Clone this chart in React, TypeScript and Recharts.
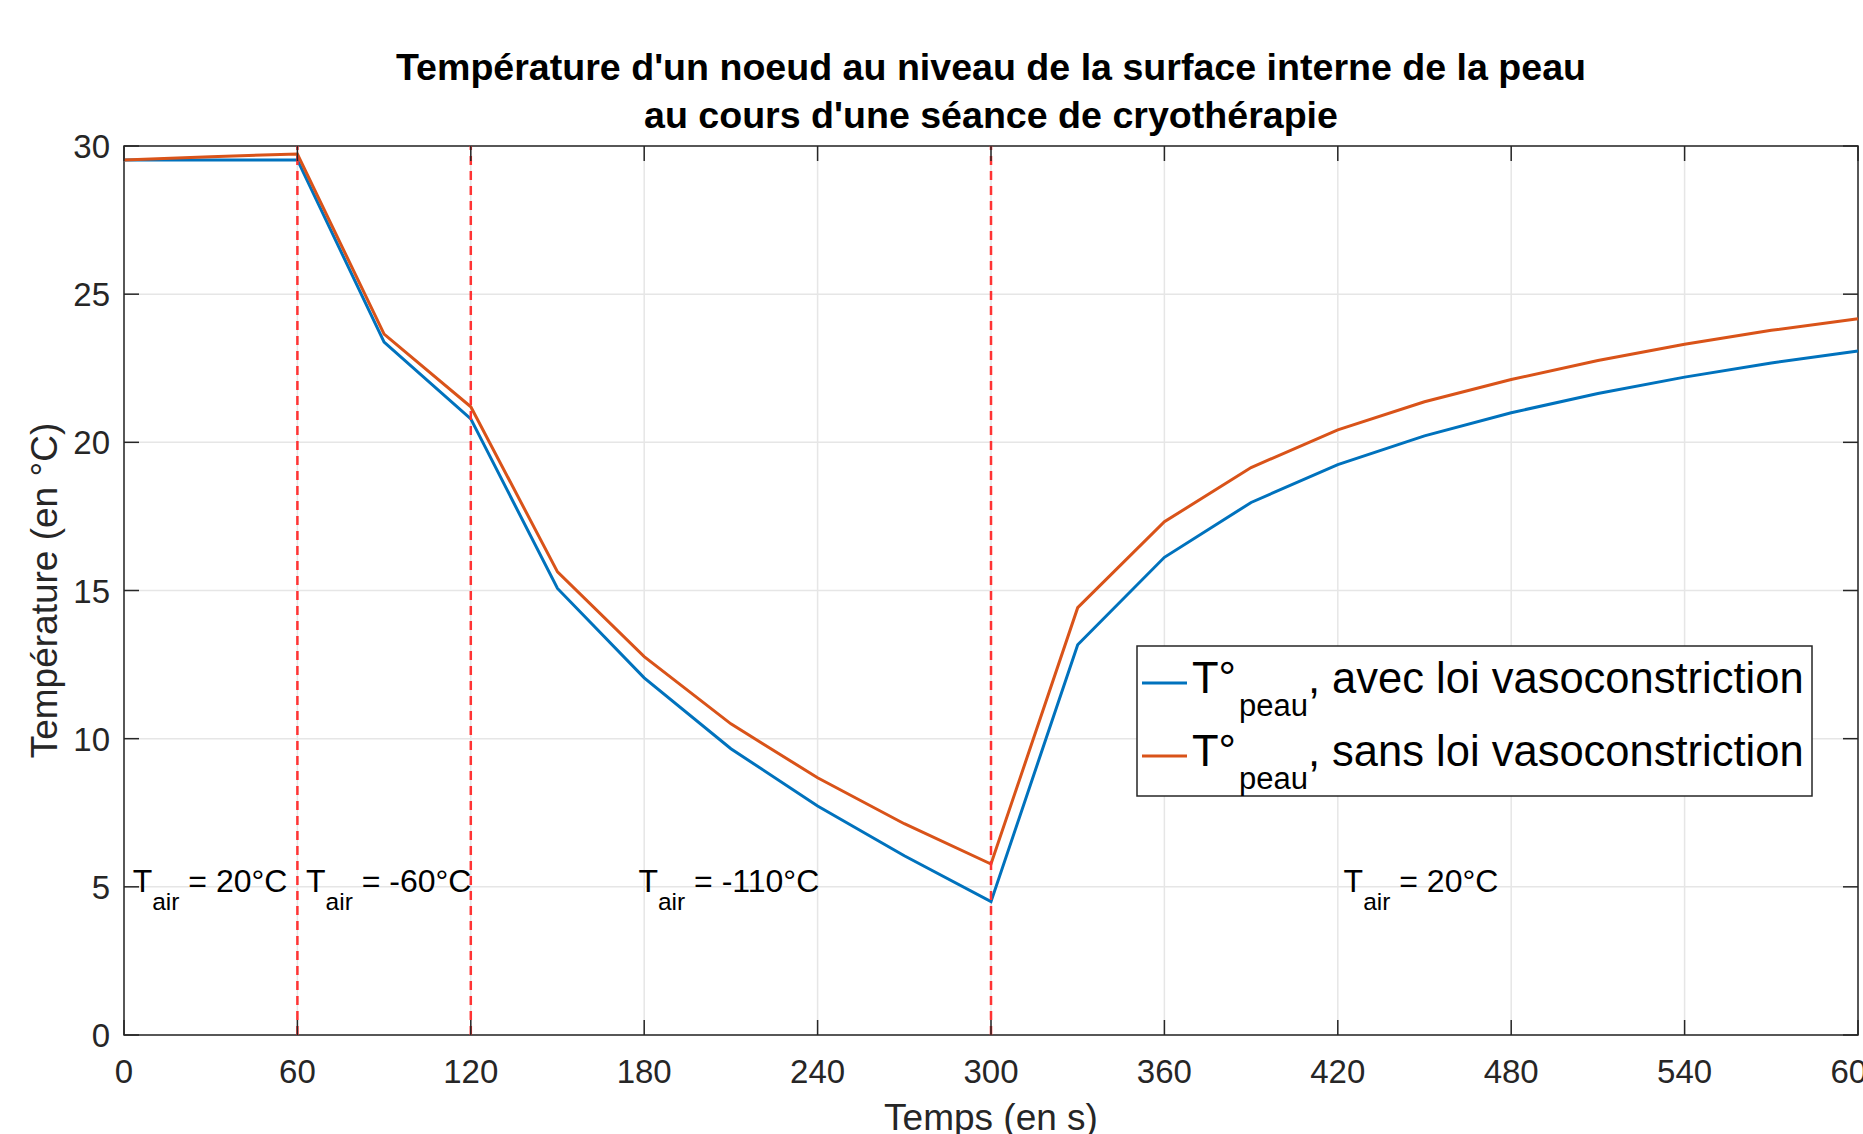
import React from 'react';
import {
  LineChart,
  Line,
  XAxis,
  YAxis,
  CartesianGrid,
  ReferenceLine,
  ReferenceArea,
  ReferenceDot,
} from 'recharts';

// temps (s)
const time = [0, 30, 60, 90, 120, 150, 180, 210, 240, 270, 300, 330, 360, 390, 420, 450, 480, 510, 540, 570, 600];

// T° peau avec loi vasoconstriction
const withVaso = [
  29.53, 29.53, 29.53, 23.38, 20.79, 15.07, 12.05, 9.66, 7.73, 6.05, 4.5,
  13.17, 16.12, 17.97, 19.25, 20.22, 21.0, 21.65, 22.2, 22.68, 23.08,
];

// T° peau sans loi vasoconstriction
const withoutVaso = [
  29.53, 29.64, 29.73, 23.65, 21.2, 15.63, 12.77, 10.5, 8.68, 7.13, 5.77,
  14.42, 17.32, 19.15, 20.42, 21.37, 22.12, 22.76, 23.31, 23.78, 24.17,
];

const xTicks = [0, 60, 120, 180, 240, 300, 360, 420, 480, 540, 600];
const yTicks = [0, 5, 10, 15, 20, 25, 30];

// changements de phase (s)
const phaseChanges = [60, 120, 300];

// étiquettes des phases
const phaseTimes = [3, 63, 178, 422];
const phaseAir = ['20°C', '-60°C', '-110°C', '20°C'];
const phaseLabelY = 5;

const seriesNames = ['avec loi vasoconstriction', 'sans loi vasoconstriction'];
const seriesKeys = ['vaso', 'noVaso'];
const seriesColors = ['#0072BD', '#D95319'];

const data = time.map((t, i) => ({ t, vaso: withVaso[i], noVaso: withoutVaso[i] }));

const W = 1863;
const H = 1134;
const PLOT_LEFT = 124;
const PLOT_RIGHT = 1858;
const PLOT_TOP = 146;
const PLOT_BOTTOM = 1035;
const FONT = '"Liberation Sans", Arial, Helvetica, sans-serif';
const AXIS = '#262626';
const TICK_LEN = 15;

function XTick(props: any) {
  const { x, payload } = props;
  return (
    <g>
      <line x1={x} x2={x} y1={PLOT_BOTTOM} y2={PLOT_BOTTOM - TICK_LEN} stroke={AXIS} strokeWidth={1.5} />
      <line x1={x} x2={x} y1={PLOT_TOP} y2={PLOT_TOP + TICK_LEN} stroke={AXIS} strokeWidth={1.5} />
      <text x={x} y={1083} textAnchor="middle" fontSize={33} fontFamily={FONT} fill={AXIS}>
        {payload.value}
      </text>
    </g>
  );
}

function YTick(props: any) {
  const { y, payload } = props;
  return (
    <g>
      <line x1={PLOT_LEFT} x2={PLOT_LEFT + TICK_LEN} y1={y} y2={y} stroke={AXIS} strokeWidth={1.5} />
      <line x1={PLOT_RIGHT - TICK_LEN} x2={PLOT_RIGHT} y1={y} y2={y} stroke={AXIS} strokeWidth={1.5} />
      <text x={110} y={y + 12} textAnchor="end" fontSize={33} fontFamily={FONT} fill={AXIS}>
        {payload.value}
      </text>
    </g>
  );
}

function phaseLabel(air: string) {
  return (p: any) => (
    <text
      x={p.cx}
      y={p.cy + 5}
      fontSize={32}
      fontFamily={FONT}
      fill="#000"
      style={{ whiteSpace: 'pre' }}
    >
      T
      <tspan fontSize={24.5} dy={18}>air</tspan>
      <tspan dy={-18}>{` = ${air}`}</tspan>
    </text>
  );
}

export default function App() {
  return (
    <div
      style={{
        position: 'absolute',
        left: 0,
        top: 0,
        width: W,
        height: H,
        overflow: 'hidden',
        background: '#fff',
      }}
    >
      <LineChart
        width={W}
        height={H}
        data={data}
        margin={{ top: PLOT_TOP, right: W - PLOT_RIGHT, left: 0, bottom: 0 }}
        style={{ fontFamily: FONT }}
      >
        <CartesianGrid stroke="#e6e6e6" strokeWidth={1.5} />
        <XAxis
          dataKey="t"
          type="number"
          domain={[0, 600]}
          ticks={xTicks}
          height={H - PLOT_BOTTOM}
          tickSize={0}
          tickMargin={0}
          axisLine={false}
          tickLine={false}
          tick={<XTick />}
          interval={0}
        />
        <YAxis
          type="number"
          domain={[0, 30]}
          ticks={yTicks}
          width={PLOT_LEFT}
          tickSize={0}
          tickMargin={0}
          axisLine={false}
          tickLine={false}
          tick={<YTick />}
          interval={0}
        />
        <ReferenceArea x1={0} x2={600} y1={0} y2={30} fill="none" fillOpacity={0} stroke={AXIS} strokeWidth={1.5} />
        {seriesKeys.map((k, i) => (
          <Line
            key={k}
            dataKey={k}
            stroke={seriesColors[i]}
            strokeWidth={3}
            dot={false}
            activeDot={false}
            isAnimationActive={false}
          />
        ))}
        {phaseChanges.map((t) => (
          <ReferenceLine key={t} x={t} stroke="#ff3333" strokeWidth={2.5} strokeDasharray="9 6" />
        ))}
        {phaseTimes.map((t, i) => (
          <ReferenceDot key={t} x={t} y={phaseLabelY} r={0} shape={phaseLabel(phaseAir[i])} />
        ))}
      </LineChart>

      <svg
        width={W}
        height={H}
        style={{ position: 'absolute', left: 0, top: 0, pointerEvents: 'none' }}
        fontFamily={FONT}
      >
        <text x={991} y={80} textAnchor="middle" fontSize={37.6} fontWeight="bold" fill="#000">
          Température d'un noeud au niveau de la surface interne de la peau
        </text>
        <text x={991} y={128} textAnchor="middle" fontSize={37.6} fontWeight="bold" fill="#000">
          au cours d'une séance de cryothérapie
        </text>
        <text
          x={57}
          y={(PLOT_TOP + PLOT_BOTTOM) / 2}
          transform={`rotate(-90 57 ${(PLOT_TOP + PLOT_BOTTOM) / 2})`}
          textAnchor="middle"
          fontSize={37}
          fill={AXIS}
        >
          Température (en °C)
        </text>
        <text x={(PLOT_LEFT + PLOT_RIGHT) / 2} y={1130} textAnchor="middle" fontSize={37} fill={AXIS}>
          Temps (en s)
        </text>

        <rect x={1137} y={646} width={675} height={150} fill="#fff" stroke={AXIS} strokeWidth={1.5} />
        {seriesNames.map((name, i) => (
          <g key={name}>
            <line
              x1={1142}
              x2={1187}
              y1={683 + i * 73}
              y2={683 + i * 73}
              stroke={seriesColors[i]}
              strokeWidth={3}
            />
            <text x={1192} y={693 + i * 73} fontSize={43.5} fill="#000" style={{ whiteSpace: 'pre' }}>
              T°
              <tspan fontSize={31} dy={23} dx={3}>peau</tspan>
              <tspan dy={-23}>{`, ${name}`}</tspan>
            </text>
          </g>
        ))}
      </svg>
    </div>
  );
}
